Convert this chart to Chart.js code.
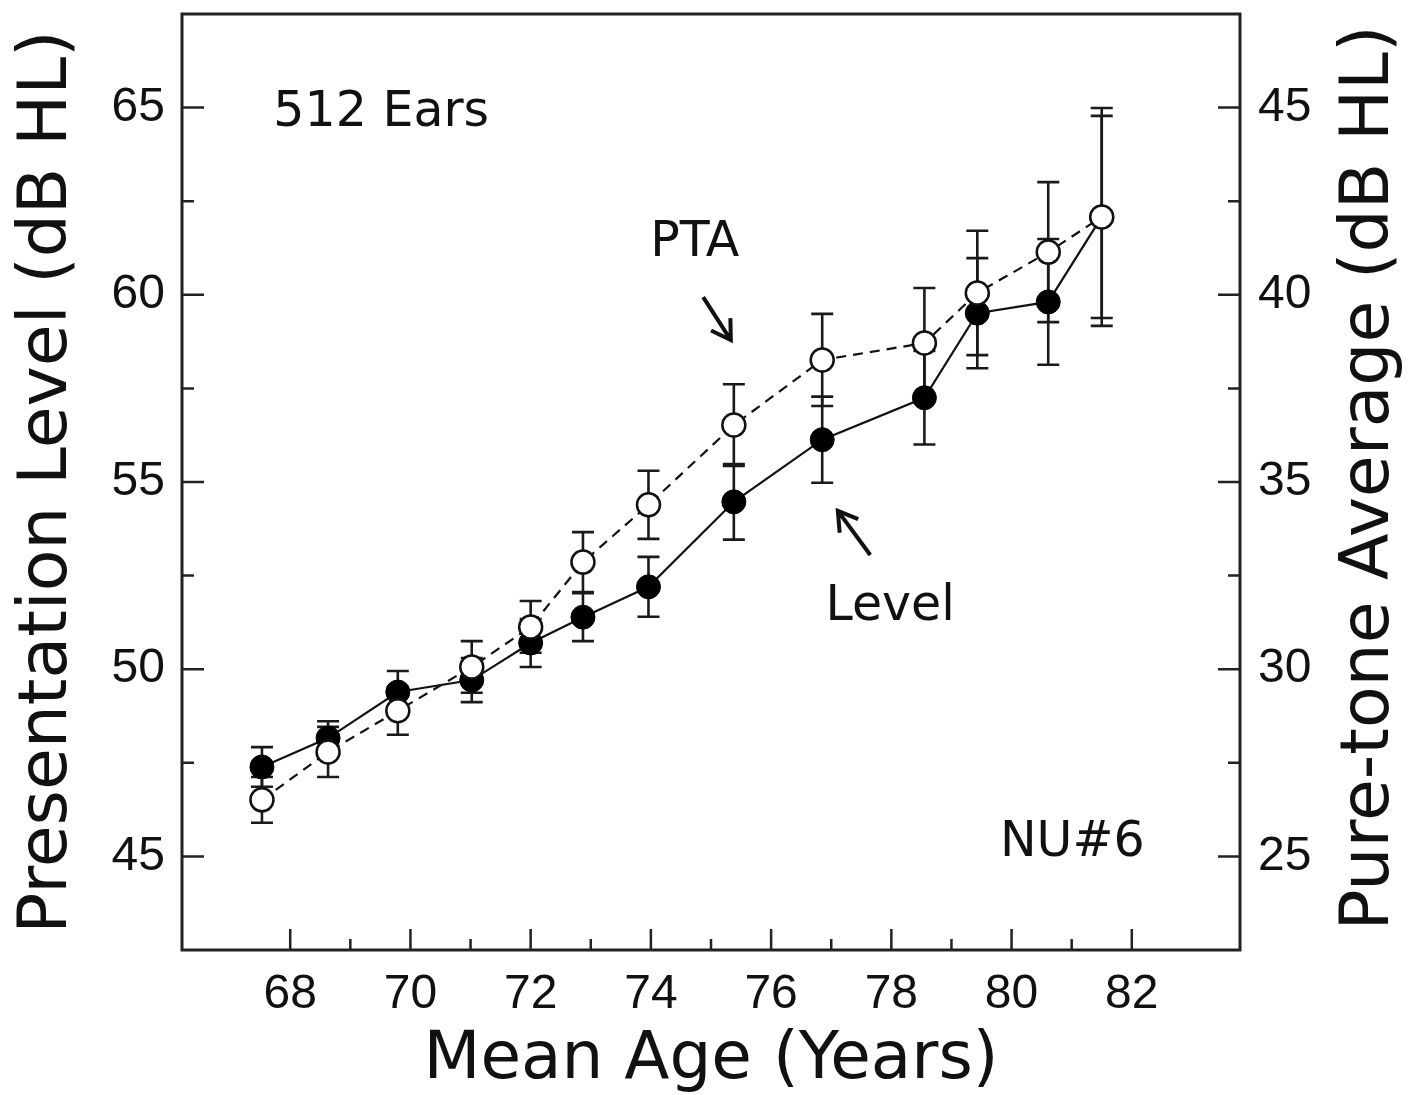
<!DOCTYPE html>
<html>
<head>
<meta charset="utf-8">
<script src="https://cdn.jsdelivr.net/npm/chart.js@4/dist/chart.umd.min.js"></script>
<style>
  html, body { margin: 0; padding: 0; background: #fff; }
</style>
</head>
<body>
<canvas id="ageChart" width="1412" height="1095"></canvas>
<script>
// Mean age of each group (years)
const ages = [67.53, 68.63, 69.79, 71.02, 72.0, 72.87, 73.96, 75.38, 76.85, 78.55, 79.43, 80.61, 81.5];
// Presentation level (dB HL), left axis
const levelMeans = [47.39, 48.16, 49.39, 49.71, 50.7, 51.39, 52.2, 54.47, 56.13, 57.25, 59.51, 59.81, 62.08];
const levelErrors = [0.53, 0.45, 0.56, 0.59, 0.64, 0.64, 0.8, 1.01, 1.15, 1.25, 1.47, 1.68, 2.7];
// Pure-tone average (dB HL), right axis
const ptaMeans = [26.51, 27.79, 28.89, 30.06, 31.13, 32.86, 34.39, 36.52, 38.26, 38.71, 40.05, 41.14, 42.08];
const ptaErrors = [0.61, 0.67, 0.64, 0.69, 0.69, 0.8, 0.91, 1.09, 1.23, 1.47, 1.66, 1.87, 2.91];

// ticks
const xMajorTicks = [68, 70, 72, 74, 76, 78, 80, 82];
const xMinorTicks = [69, 71, 73, 75, 77, 79, 81];
const leftMajorTicks = [45, 50, 55, 60, 65];
const leftMinorTicks = [47.5, 52.5, 57.5, 62.5];
const rightMajorTicks = [25, 30, 35, 40, 45];
const rightMinorTicks = [27.5, 32.5, 37.5, 42.5];

const tickFont = { family: 'Liberation Sans', size: 48 };
const titleFont = { family: 'DejaVu Sans', size: 68, lineHeight: 1.2 };
const noteFont = '49px "DejaVu Sans"';

// no extra room for labels near the edges, the frame sits where we want it
const noEdgePadding = s => { s.paddingTop = 0; s.paddingBottom = 0; s.paddingLeft = 0; s.paddingRight = 0; };

// error bars under the markers
const errorBars = {
    id: 'errorBars',
    beforeDatasetsDraw(chart) {
        const ctx = chart.ctx;
        const xs = chart.scales.x;
        const cap = 11;
        ctx.save();
        ctx.strokeStyle = '#1a1a1a';
        ctx.lineWidth = 2.6;
        const draw = (means, errs, scale) => {
            means.forEach((m, i) => {
                const x = xs.getPixelForValue(ages[i]);
                const top = scale.getPixelForValue(m + errs[i]);
                const bot = scale.getPixelForValue(m - errs[i]);
                ctx.beginPath();
                ctx.moveTo(x, top); ctx.lineTo(x, bot);
                ctx.moveTo(x - cap, top); ctx.lineTo(x + cap, top);
                ctx.moveTo(x - cap, bot); ctx.lineTo(x + cap, bot);
                ctx.stroke();
            });
        };
        draw(levelMeans, levelErrors, chart.scales.y);
        draw(ptaMeans, ptaErrors, chart.scales.y1);
        ctx.restore();
    }
};

// box frame with inward ticks, right title, text notes and arrows
const frameAndNotes = {
    id: 'frameAndNotes',
    afterDraw(chart) {
        const ctx = chart.ctx;
        const { left, right, top, bottom } = chart.chartArea;
        const xs = chart.scales.x, ys = chart.scales.y, ys1 = chart.scales.y1;
        ctx.save();
        ctx.strokeStyle = '#222';
        ctx.lineWidth = 2.5;
        ctx.beginPath();
        xMajorTicks.forEach(v => { const p = xs.getPixelForValue(v); ctx.moveTo(p, bottom); ctx.lineTo(p, bottom - 21); });
        xMinorTicks.forEach(v => { const p = xs.getPixelForValue(v); ctx.moveTo(p, bottom); ctx.lineTo(p, bottom - 11); });
        leftMajorTicks.forEach(v => { const p = ys.getPixelForValue(v); ctx.moveTo(left, p); ctx.lineTo(left + 22, p); });
        leftMinorTicks.forEach(v => { const p = ys.getPixelForValue(v); ctx.moveTo(left, p); ctx.lineTo(left + 12, p); });
        rightMajorTicks.forEach(v => { const p = ys1.getPixelForValue(v); ctx.moveTo(right, p); ctx.lineTo(right - 22, p); });
        rightMinorTicks.forEach(v => { const p = ys1.getPixelForValue(v); ctx.moveTo(right, p); ctx.lineTo(right - 12, p); });
        ctx.stroke();

        ctx.lineWidth = 3;
        ctx.strokeRect(left, top, right - left, bottom - top);

        // right axis title reads bottom to top, like the left one
        ctx.fillStyle = '#111';
        ctx.save();
        ctx.translate(right + 130, (top + bottom) / 2 - 4);
        ctx.rotate(-Math.PI / 2);
        ctx.font = '68px "DejaVu Sans"';
        ctx.textAlign = 'center';
        ctx.textBaseline = 'middle';
        ctx.fillText('Pure-tone Average (dB HL)', 0, 0);
        ctx.restore();

        // notes
        ctx.font = noteFont;
        ctx.textBaseline = 'middle';
        ctx.textAlign = 'left';
        ctx.fillText('512 Ears', xs.getPixelForValue(67.72), ys.getPixelForValue(64.86));
        ctx.textAlign = 'center';
        ctx.fillText('PTA', xs.getPixelForValue(74.73), ys.getPixelForValue(61.38));
        ctx.fillText('Level', xs.getPixelForValue(77.98), ys.getPixelForValue(51.66));
        ctx.fillText('NU#6', xs.getPixelForValue(81.01), ys.getPixelForValue(45.36));

        // arrows
        const arrow = (x0, y0, x1, y1) => {
            const ax = xs.getPixelForValue(x0), ay = ys.getPixelForValue(y0);
            const bx = xs.getPixelForValue(x1), by = ys.getPixelForValue(y1);
            const ang = Math.atan2(by - ay, bx - ax);
            const h = 22;
            ctx.lineWidth = 4;
            ctx.strokeStyle = '#111';
            ctx.beginPath();
            ctx.moveTo(ax, ay); ctx.lineTo(bx, by);
            ctx.moveTo(bx - h * Math.cos(ang - 0.55), by - h * Math.sin(ang - 0.55));
            ctx.lineTo(bx, by);
            ctx.lineTo(bx - h * Math.cos(ang + 0.55), by - h * Math.sin(ang + 0.55));
            ctx.stroke();
        };
        arrow(74.87, 59.94, 75.33, 58.79);
        arrow(77.65, 53.05, 77.11, 54.23);
        ctx.restore();
    }
};

new Chart(document.getElementById('ageChart'), {
    type: 'line',
    data: {
        datasets: [{
            label: 'PTA',
            yAxisID: 'y1',
            data: ages.map((a, i) => ({ x: a, y: ptaMeans[i] })),
            borderColor: '#111',
            borderWidth: 2.2,
            borderDash: [10, 7],
            pointRadius: 11.5,
            pointBackgroundColor: '#fff',
            pointBorderColor: '#111',
            pointBorderWidth: 2.5,
            tension: 0
        }, {
            label: 'Level',
            yAxisID: 'y',
            data: ages.map((a, i) => ({ x: a, y: levelMeans[i] })),
            borderColor: '#111',
            borderWidth: 2.2,
            pointRadius: 12,
            pointBackgroundColor: '#000',
            pointBorderColor: '#000',
            pointBorderWidth: 1,
            tension: 0
        }]
    },
    options: {
        responsive: false,
        animation: false,
        devicePixelRatio: 1,
        layout: { padding: { top: 14, left: 0, right: 0, bottom: 0 } },
        plugins: { legend: { display: false }, tooltip: { enabled: false } },
        scales: {
            x: {
                type: 'linear',
                position: 'bottom',
                min: 66.2,
                max: 83.8,
                afterBuildTicks: s => { s.ticks = xMajorTicks.map(v => ({ value: v })); },
                afterFit: s => { s.height = 145; noEdgePadding(s); },
                grid: { display: false, drawTicks: false },
                border: { display: false },
                ticks: { font: tickFont, color: '#111', padding: 16, maxRotation: 0, callback: v => String(v) },
                title: { display: true, text: 'Mean Age (Years)', font: { family: 'DejaVu Sans', size: 66, lineHeight: 1.1 }, color: '#111', padding: { top: 0, bottom: -2 } }
            },
            y: {
                type: 'linear',
                position: 'left',
                min: 42.5,
                max: 67.5,
                afterBuildTicks: s => { s.ticks = leftMajorTicks.map(v => ({ value: v })); },
                afterFit: s => { s.width = 182; noEdgePadding(s); },
                grid: { display: false, drawTicks: false },
                border: { display: false },
                ticks: { font: tickFont, color: '#111', padding: 17, callback: v => String(v) },
                title: { display: true, text: 'Presentation Level (dB HL)', font: titleFont, color: '#111', padding: { top: 8, bottom: 0 } }
            },
            y1: {
                type: 'linear',
                position: 'right',
                min: 22.5,
                max: 47.5,
                afterBuildTicks: s => { s.ticks = rightMajorTicks.map(v => ({ value: v })); },
                afterFit: s => { s.width = 172; noEdgePadding(s); },
                grid: { display: false, drawTicks: false },
                border: { display: false },
                ticks: { font: tickFont, color: '#111', padding: 18, callback: v => String(v) },
                title: { display: false }
            }
        }
    },
    plugins: [errorBars, frameAndNotes]
});
</script>
</body>
</html>
